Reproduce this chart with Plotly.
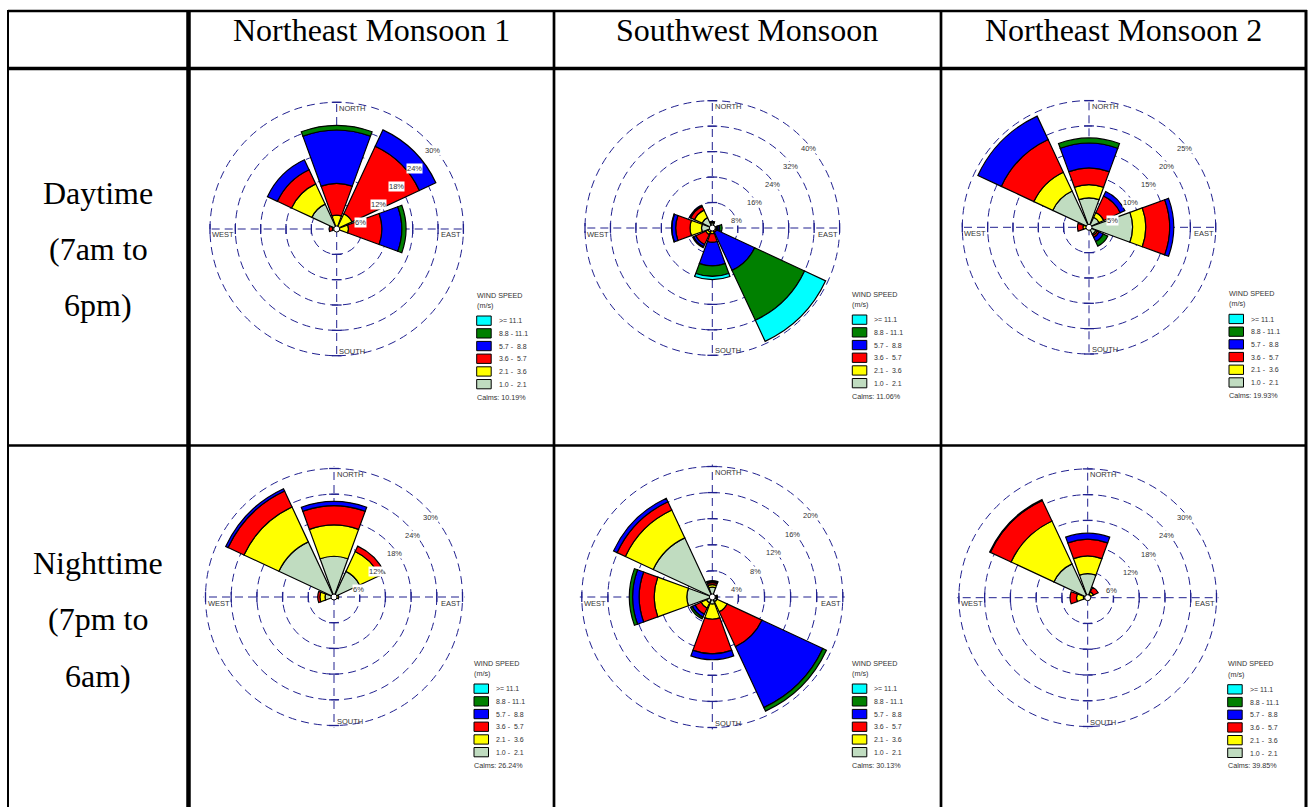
import math
import plotly.graph_objects as go

FIG_W, FIG_H = 1308, 807

# ---------------- data ----------------
DIR_LABELS = ["N", "NE", "E", "SE", "S", "SW", "W", "NW"]
DIR_DEG = [0, 45, 90, 135, 180, 225, 270, 315]
NBSP = "\u00a0"
SPEED_BINS = ["1.0 -" + NBSP * 2 + "2.1", "2.1 -" + NBSP * 2 + "3.6", "3.6 -" + NBSP * 2 + "5.7",
              "5.7 -" + NBSP * 2 + "8.8", "8.8 - 11.1", ">= 11.1"]
BIN_COLORS = ["#c0dcc0", "#ffff00", "#ff0000", "#0000ff", "#008000", "#00ffff"]

SEASONS = ["Northeast Monsoon 1", "Southwest Monsoon", "Northeast Monsoon 2"]
DAY_LINES = ["Daytime", "(7am to", "6pm)"]
NIGHT_LINES = ["Nighttime", "(7pm to", "6am)"]

# % frequency; rows = speed bins (1.0-2.1, 2.1-3.6, 3.6-5.7, 5.7-8.8, 8.8-11.1, >=11.1)
# columns = N, NE, E, SE, S, SW, W, NW
ne1_day = [
    [0.3, 0.5, 0.3, 0, 0, 0, 0.5, 6.5],
    [3.0, 3.5, 2.5, 0, 0, 0, 0.5, 5.3],
    [7.5, 17.6, 7.9, 0, 0, 0, 0.8, 3.7],
    [12.6, 4.3, 4.7, 0, 0, 0, 0, 2.6],
    [1.1, 0, 1.0, 0, 0, 0, 0, 0],
    [0, 0, 0, 0, 0, 0, 0, 0],
]
sw_day = [
    [1.6, 0.8, 1.2, 0.3, 0.8, 1.5, 3.4, 3.6],
    [0.3, 0, 0.3, 0.4, 1.0, 0.8, 3.6, 2.6],
    [0.2, 0, 0.3, 0.8, 2.7, 3.4, 4.5, 1.3],
    [0, 0, 0.5, 13.2, 7.4, 0.8, 1.2, 0.4],
    [0, 0, 0.8, 17.3, 3.3, 0.3, 0.1, 0],
    [0, 0, 0, 7.3, 1.0, 0, 0, 0],
]
ne2_day = [
    [5.8, 2.2, 8.6, 1.5, 0, 0, 0.5, 7.9],
    [2.6, 1.0, 2.6, 0.3, 0, 0, 0.7, 4.1],
    [3.3, 3.6, 4.7, 0.4, 0, 0, 1.1, 7.1],
    [4.9, 1.0, 0.8, 0.9, 0, 0, 0, 5.1],
    [1.0, 0, 0, 1.0, 0, 0, 0, 0],
    [0, 0, 0, 0, 0, 0, 0, 0],
]
ne1_night = [
    [9.5, 6.6, 0.4, 0, 0, 0, 2.1, 14.2],
    [7.3, 5.1, 0.7, 0, 0, 0, 1.2, 9.0],
    [4.5, 1.4, 0, 0, 0, 0, 0.5, 4.1],
    [1.0, 0, 0, 0, 0, 0, 0, 0.6],
    [0, 0, 0, 0, 0, 0, 0, 0],
    [0, 0, 0, 0, 0, 0, 0, 0],
]
sw_night = [
    [1.5, 0.2, 0.3, 0.8, 1.1, 1.0, 3.9, 10.0],
    [0.4, 0, 0.2, 1.7, 2.3, 0.9, 5.0, 4.7],
    [0.3, 0, 0.1, 5.9, 5.3, 1.0, 2.3, 1.4],
    [0.2, 0, 0.1, 10.3, 0.9, 0.5, 1.0, 0.6],
    [0.1, 0, 0.1, 0.6, 0, 0.3, 0.5, 0],
    [0, 0, 0, 0, 0, 0, 0, 0],
]
ne2_night = [
    [5.6, 0.8, 0, 0, 0, 0, 1.0, 8.7],
    [4.1, 0.7, 0, 0, 0, 0, 1.6, 11.0],
    [3.9, 1.2, 0, 0, 0, 0, 1.5, 5.3],
    [1.4, 0, 0, 0, 0, 0, 0, 0.2],
    [0, 0, 0, 0, 0, 0, 0, 0],
    [0, 0, 0, 0, 0, 0, 0, 0],
]

ne1_day_rings = [6, 12, 18, 24, 30]
sw_day_rings = [8, 16, 24, 32, 40]
ne2_day_rings = [5, 10, 15, 20, 25]
ne1_night_rings = [6, 12, 18, 24, 30]
sw_night_rings = [4, 8, 12, 16, 20]
ne2_night_rings = [6, 12, 18, 24, 30]

calms = [10.19, 11.06, 19.93, 26.24, 30.13, 39.85]

ROSES = [ne1_day, sw_day, ne2_day, ne1_night, sw_night, ne2_night]
RINGS = [ne1_day_rings, sw_day_rings, ne2_day_rings, ne1_night_rings, sw_night_rings, ne2_night_rings]

# ---------------- layout geometry (px) ----------------
ROSE_GEOM = [
    (336.7, 229.0, 126.7),
    (712.3, 228.0, 127.3),
    (1089.0, 227.3, 126.7),
    (334.0, 597.0, 128.5),
    (712.3, 597.0, 130.5),
    (1087.7, 597.7, 128.8),
]
PAD = 1.015
GRID_COLOR = "#20208f"
GRID_DASH = "8px,5px"
SANS = "Liberation Sans, Arial, sans-serif"
SERIF = "Liberation Serif, Times New Roman, serif"
TXT = "#333333"


def px(x):
    return x / FIG_W


def py(y):
    return 1 - y / FIG_H


fig = go.Figure()
annotations = []
shapes = []
layout_polars = {}

for k in range(6):
    sp = "polar" if k == 0 else f"polar{k + 1}"
    cx, cy, R = ROSE_GEOM[k]
    data = ROSES[k]
    rings = RINGS[k]
    rmax = rings[-1]

    for b in range(6):
        fig.add_trace(go.Barpolar(
            r=[v if v > 0 else None for v in data[b]],
            theta=DIR_DEG,
            width=40,
            name=SPEED_BINS[b],
            marker=dict(color=BIN_COLORS[b], line=dict(color="black", width=1.2)),
            subplot=sp, showlegend=False, hoverinfo="skip",
        ))

    totals = [sum(data[b][d] for b in range(6)) for d in range(8)]
    tr, tt, ts = [], [], []
    for d in (0, 2, 4, 6):
        for v in rings:
            if v > totals[d] + 0.3:
                tr.append(v)
                tt.append(DIR_DEG[d])
                ts.append("line-ew" if d in (0, 4) else "line-ns")
    fig.add_trace(go.Scatterpolar(
        r=tr, theta=tt, mode="markers",
        marker=dict(symbol=ts, size=7, color=GRID_COLOR, line=dict(color=GRID_COLOR, width=1.3)),
        subplot=sp, showlegend=False, hoverinfo="skip",
    ))
    fig.add_trace(go.Scatterpolar(
        r=[0], theta=[0], mode="markers",
        marker=dict(symbol="circle", size=6, color="white", line=dict(color="black", width=1)),
        subplot=sp, showlegend=False, hoverinfo="skip",
    ))

    layout_polars[sp] = dict(
        domain=dict(x=[px(cx - R * PAD), px(cx + R * PAD)], y=[py(cy + R * PAD), py(cy - R * PAD)]),
        bgcolor="white",
        barmode="stack",
        radialaxis=dict(range=[0, rmax * PAD], tickvals=rings, showticklabels=False, ticks="",
                        showline=False, gridcolor=GRID_COLOR, griddash=GRID_DASH, gridwidth=1.4,
                        layer="below traces"),
        angularaxis=dict(rotation=90, direction="clockwise", tickvals=[0, 90, 180, 270],
                         showticklabels=False, ticks="", showline=False, gridcolor=GRID_COLOR,
                         griddash=GRID_DASH, gridwidth=1.4, layer="below traces"),
    )

    # ring labels
    for v in rings:
        rr = R * v / rmax
        a = math.radians(45)
        annotations.append(dict(
            x=px(cx + rr * math.sin(a)), y=py(cy - rr * math.cos(a)), xref="paper", yref="paper",
            text=f"{v}%", showarrow=False, xanchor="center", yanchor="middle",
            xshift=6, yshift=-11, bgcolor="white", borderpad=0,
            font=dict(family=SANS, size=7.5, color=TXT),
        ))
    # compass labels
    comp = [
        ("NORTH", cx + 1.5, cy - R + 6, "left"),
        ("SOUTH", cx + 1.5, cy + R - 4.5, "left"),
        ("EAST", cx + R - 1, cy + 6, "right"),
        ("WEST", cx - R + 1, cy + 6, "left"),
    ]
    for t, x, y, xa in comp:
        annotations.append(dict(
            x=px(x), y=py(y), xref="paper", yref="paper", text=t, showarrow=False,
            xanchor=xa, yanchor="middle", borderpad=0,
            font=dict(family=SANS, size=7.5, color=TXT),
        ))
    # legend
    lx = cx + 140
    annotations.append(dict(x=px(lx - 1), y=py(cy + 66), xref="paper", yref="paper", text="WIND SPEED",
                            showarrow=False, xanchor="left", yanchor="middle", borderpad=0,
                            font=dict(family=SANS, size=7.2, color=TXT)))
    annotations.append(dict(x=px(lx - 1), y=py(cy + 76.5), xref="paper", yref="paper", text="(m/s)",
                            showarrow=False, xanchor="left", yanchor="middle", borderpad=0,
                            font=dict(family=SANS, size=7.2, color=TXT)))
    for i, b in enumerate(range(5, -1, -1)):
        top = cy + 87 + i * 12.7
        shapes.append(dict(type="rect", xref="paper", yref="paper",
                           x0=px(lx), x1=px(lx + 14.5), y0=py(top + 9.3), y1=py(top),
                           fillcolor=BIN_COLORS[b], line=dict(color="black", width=1)))
        annotations.append(dict(x=px(lx + 21), y=py(top + 4.8), xref="paper", yref="paper",
                                text=SPEED_BINS[b], showarrow=False, xanchor="left", yanchor="middle",
                                borderpad=0, font=dict(family=SANS, size=7, color=TXT)))
    annotations.append(dict(x=px(lx - 1), y=py(cy + 168), xref="paper", yref="paper",
                            text=f"Calms: {calms[k]:.2f}%", showarrow=False, xanchor="left",
                            yanchor="middle", borderpad=0, font=dict(family=SANS, size=7.2, color=TXT)))

# ---------------- table ----------------
HEADER_CENTERS = [(188.5 + 554) / 2, (554 + 941) / 2, (941 + 1306) / 2]
for s, xc in zip(SEASONS, HEADER_CENTERS):
    annotations.append(dict(x=px(xc), y=py(30), xref="paper", yref="paper", text=s, showarrow=False,
                            xanchor="center", yanchor="middle",
                            font=dict(family=SERIF, size=32, color="black")))
for lines, ys in ((DAY_LINES, [193, 249, 305]), (NIGHT_LINES, [563, 619, 676])):
    for t, y in zip(lines, ys):
        annotations.append(dict(x=px(98), y=py(y), xref="paper", yref="paper", text=t, showarrow=False,
                                xanchor="center", yanchor="middle",
                                font=dict(family=SERIF, size=32, color="black")))

table_lines = [
    (8, 11, 1307, 11, 2.5),
    (8, 68.5, 1307, 68.5, 3.5),
    (8, 445.5, 1307, 445.5, 2.5),
    (8, 10, 8, 807, 2),
    (188.5, 10, 188.5, 807, 4.5),
    (554, 10, 554, 807, 2.7),
    (941, 10, 941, 807, 2.7),
    (1306, 10, 1306, 807, 3),
]
for x0, y0, x1, y1, w in table_lines:
    shapes.append(dict(type="line", xref="paper", yref="paper", x0=px(x0), y0=py(y0), x1=px(x1), y1=py(y1),
                       line=dict(color="black", width=w)))

fig.update_layout(
    width=FIG_W, height=FIG_H, autosize=False,
    margin=dict(l=0, r=0, t=0, b=0),
    paper_bgcolor="white", plot_bgcolor="white",
    showlegend=False,
    annotations=annotations,
    shapes=shapes,
    **layout_polars,
)

fig.write_html("out.html", config={"displayModeBar": False},
               post_script="document.body.style.margin='0';document.body.style.padding='0';")
